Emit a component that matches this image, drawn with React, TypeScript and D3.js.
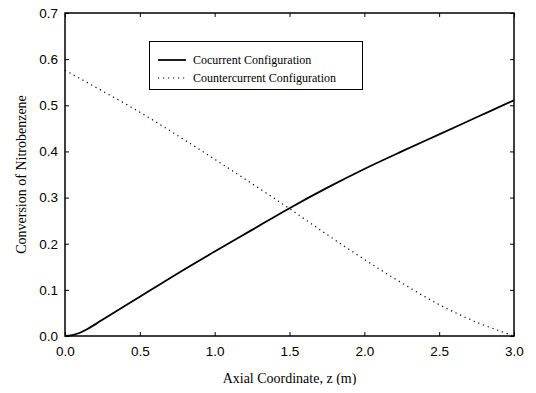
import React, { useRef, useEffect } from 'react';
import * as d3 from 'd3';

// axial positions (m)
const zValues = [0, 0.05, 0.1, 0.15, 0.25, 0.5, 0.75, 1.0, 1.25, 1.5, 1.75, 2.0, 2.25, 2.5, 2.75, 3.0];
// conversion, cocurrent configuration
const cocurrent = [0, 0.002, 0.007, 0.015, 0.035, 0.085, 0.135, 0.183, 0.23, 0.277, 0.321, 0.362, 0.4, 0.437, 0.474, 0.511];
// conversion, countercurrent configuration
const countercurrent = [0.576, 0.567, 0.558, 0.549, 0.531, 0.485, 0.435, 0.383, 0.33, 0.276, 0.22, 0.166, 0.115, 0.068, 0.03, 0];

const xTicks = [0, 0.5, 1.0, 1.5, 2.0, 2.5, 3.0];
const yTicks = [0, 0.1, 0.2, 0.3, 0.4, 0.5, 0.6, 0.7];

const seriesNames = ['Cocurrent Configuration', 'Countercurrent Configuration'];

const W = 536;
const H = 393;

const Chart: React.FC = () => {
    const ref = useRef<SVGSVGElement>(null);

    useEffect(() => {
        if (ref.current) drawChart();
    }, []);

    const drawChart = () => {
        const svg = d3.select(ref.current);
        svg.selectAll('*').remove();

        const left = 65, right = 514, top = 13, bottom = 336;
        const x = d3.scaleLinear().domain([0, 3]).range([left, right]);
        const y = d3.scaleLinear().domain([0, 0.7]).range([bottom, top]);
        const tickFont = 'Arial, "Liberation Sans", sans-serif';
        const serif = '"Times New Roman", "Liberation Serif", serif';

        // bottom axis, ticks inward
        svg.append('g')
            .attr('transform', `translate(0,${bottom})`)
            .call(d3.axisBottom(x).tickValues(xTicks).tickSizeInner(-4).tickSizeOuter(0).tickPadding(10).tickFormat(d3.format('.1f')))
            .call(g => g.select('.domain').remove())
            .call(g => g.selectAll('text').attr('font-family', tickFont).attr('font-size', 13.5).attr('fill', '#000'))
            .call(g => g.selectAll('line').attr('stroke', '#000'));

        // top ticks
        svg.append('g')
            .attr('transform', `translate(0,${top})`)
            .call(d3.axisTop(x).tickValues(xTicks).tickSizeInner(-4).tickSizeOuter(0).tickFormat(() => ''))
            .call(g => g.select('.domain').remove())
            .call(g => g.selectAll('line').attr('stroke', '#000'));

        // left axis
        svg.append('g')
            .attr('transform', `translate(${left},0)`)
            .call(d3.axisLeft(y).tickValues(yTicks).tickSizeInner(-4).tickSizeOuter(0).tickPadding(7).tickFormat(d3.format('.1f')))
            .call(g => g.select('.domain').remove())
            .call(g => g.selectAll('text').attr('font-family', tickFont).attr('font-size', 13.5).attr('fill', '#000'))
            .call(g => g.selectAll('line').attr('stroke', '#000'));

        // right ticks
        svg.append('g')
            .attr('transform', `translate(${right},0)`)
            .call(d3.axisRight(y).tickValues(yTicks).tickSizeInner(-4).tickSizeOuter(0).tickFormat(() => ''))
            .call(g => g.select('.domain').remove())
            .call(g => g.selectAll('line').attr('stroke', '#000'));

        // frame
        svg.append('rect')
            .attr('x', left).attr('y', top)
            .attr('width', right - left).attr('height', bottom - top)
            .attr('fill', 'none').attr('stroke', '#000').attr('stroke-width', 1.5);

        const line = d3.line<number>()
            .x((_, i) => x(zValues[i]))
            .curve(d3.curveCatmullRom.alpha(0.5));

        svg.append('path')
            .attr('d', line.y(d => y(d))(cocurrent))
            .attr('fill', 'none').attr('stroke', '#000').attr('stroke-width', 1.8);

        svg.append('path')
            .attr('d', line.y(d => y(d))(countercurrent))
            .attr('fill', 'none').attr('stroke', '#000').attr('stroke-width', 1.2)
            .attr('stroke-dasharray', '1.2,3.8');

        // legend
        const lg = svg.append('g');
        lg.append('rect')
            .attr('x', 149.5).attr('y', 41.5).attr('width', 213).attr('height', 48)
            .attr('fill', '#fff').attr('stroke', '#000').attr('stroke-width', 1);
        const rows = [60, 78];
        seriesNames.forEach((name, i) => {
            lg.append('line')
                .attr('x1', 158).attr('x2', 186).attr('y1', rows[i]).attr('y2', rows[i])
                .attr('stroke', '#000')
                .attr('stroke-width', i === 0 ? 1.8 : 1.2)
                .attr('stroke-dasharray', i === 0 ? null : '1.2,3.8');
            lg.append('text')
                .attr('x', 193).attr('y', rows[i]).attr('dy', '0.35em')
                .attr('font-family', serif).attr('font-size', 12)
                .text(name);
        });

        // axis titles
        svg.append('text')
            .attr('x', (left + right) / 2).attr('y', 383)
            .attr('text-anchor', 'middle')
            .attr('font-family', serif).attr('font-size', 14)
            .text('Axial Coordinate, z (m)');

        svg.append('text')
            .attr('transform', `translate(26,${(top + bottom) / 2}) rotate(-90)`)
            .attr('text-anchor', 'middle')
            .attr('font-family', serif).attr('font-size', 14)
            .text('Conversion of Nitrobenzene');
    };

    return <svg ref={ref} width={W} height={H} style={{ display: 'block' }} />;
};

const App = () => (
    <div style={{ margin: -8 }}>
        <Chart />
    </div>
);

export default App;
